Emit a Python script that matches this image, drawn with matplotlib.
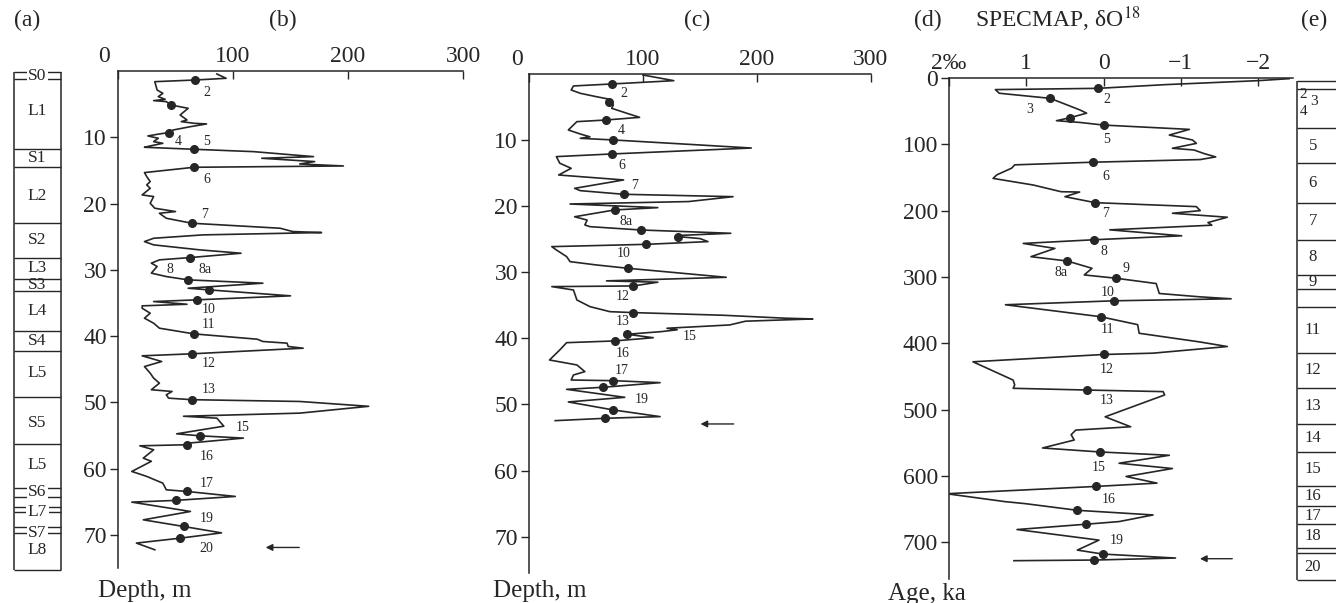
import matplotlib
matplotlib.use('Agg')
import matplotlib.pyplot as plt
from matplotlib.transforms import ScaledTranslation

plt.rcParams['font.family'] = ['Liberation Serif', 'DejaVu Serif']
plt.rcParams['mathtext.fontset'] = 'stix'

INK = '#262626'
W, H = 1336, 603

# (a) loess / palaeosol column, depth in m
a_bounds = [0.2, 1.2, 11.8, 14.5, 23.0, 28.2, 31.4, 33.2, 39.2, 42.3, 49.2, 56.3,
            62.9, 64.3, 65.8, 66.6, 68.8, 69.7, 75.3]
a_names = ['S0', 'L1', 'S1', 'L2', 'S2', 'L3', 'S3', 'L4', 'S4', 'L5', 'S5', 'L5',
           'S6', 'L7', 'S7', 'L8']
a_name_depth = [0.7, 6.1, 13.2, 18.9, 25.5, 29.8, 32.3, 36.2, 40.8, 45.6, 53.1, 59.4,
                63.6, 66.6, 69.7, 72.3]
a_boxed = ['S0', 'S6', 'L7', 'S7']

# (b) section 1
b_depth = [0.45, 1.1, 1.36, 1.61, 2.87, 3.37, 3.87, 4.27, 4.47, 4.62, 5.13, 5.63, 6.64,
           7.39, 7.64, 7.89, 7.99, 8.4, 8.9, 9.3, 9.5, 9.8, 10.15, 10.66, 10.91, 11.31,
           11.51, 11.81, 12.17, 12.92, 13.17, 13.67, 14.03, 14.33, 14.53, 15.33, 15.94,
           16.69, 17.19, 17.7, 18.7, 18.95, 19.96, 20.71, 21.21, 21.47, 22.22, 22.97,
           23.73, 24.23, 24.38, 24.73, 25.24, 25.74, 26.24, 26.99, 27.5, 28.15, 28.5,
           29.0, 29.5, 30.5, 31.02, 31.52, 32.02, 32.78, 33.03, 33.93, 34.53, 34.79,
           35.2, 35.44, 35.8, 36.55, 37.3, 38.06, 38.81, 39.67, 40.47, 40.82, 41.07,
           41.57, 41.83, 42.68, 42.98, 43.84, 44.6, 45.6, 46.35, 47.1, 48.1, 48.36,
           48.86, 49.37, 49.6, 49.87, 50.6, 51.63, 52.1, 52.39, 53.2, 53.6, 54.75,
           55.05, 55.4, 56.16, 56.4, 56.56, 57.16, 58.42, 58.9, 60.43, 61.18, 62.2,
           63.2, 63.45, 64.2, 64.8, 65.06, 66.47, 67.73, 68.73, 69.7, 70.5, 71.24, 72.25]
b_value = [86, 94, 67, 32, 34, 39, 35, 41, 31, 42, 46, 61, 54,
           60, 55, 66, 77, 63, 48, 44, 36, 26, 35, 31, 39, 28,
           23, 66, 118, 170, 125, 171, 158, 196, 66, 23, 25,
           28, 25, 28, 21, 31, 28, 32, 50, 36, 42, 64,
           141, 152, 177, 74, 31, 23, 31, 71, 107, 63, 36,
           29, 34, 29, 42, 61, 126, 61, 79, 150, 69, 31,
           60, 21, 21, 28, 23, 31, 36, 66, 121, 126, 147,
           148, 161, 64, 21, 38, 23, 28, 31, 36, 29, 47,
           42, 44, 64, 158, 218, 158, 57, 86, 90, 92, 51,
           71, 109, 61, 60, 19, 31, 22, 29, 12, 25, 39,
           42, 60, 102, 50, 12, 63, 22, 57, 90, 54, 16, 32]
b_mark_depth = [1.36, 5.13, 9.3, 11.81, 14.53, 22.97, 28.15, 31.52, 33.03, 34.53, 39.67,
                42.68, 49.6, 55.05, 56.4, 63.45, 64.8, 68.73, 70.5]
b_mark_value = [67, 46, 44, 66, 66, 64, 63, 61, 79, 69, 66,
                64, 64, 71, 60, 60, 50, 57, 54]
b_labels = ['2', '4', '5', '6', '7', '8', '8a', '10', '11', '12', '13', '15', '16',
            '17', '19', '20']
b_label_depth = [3.3, 10.6, 10.7, 16.3, 21.6, 30.0, 30.0, 36.0, 38.3, 44.1, 48.0, 53.8,
                 58.1, 62.2, 67.6, 72.0]
b_label_value = [77, 52, 77, 77, 75, 45, 76, 79, 79, 79, 79, 108, 77, 77, 77, 77]
b_arrow = (160, 126, 71.9)  # tail, tip, depth

# (c) section 2
c_depth = [0.15, 1.01, 1.51, 1.81, 2.42, 2.92, 3.43, 3.83, 4.18, 4.69, 5.19, 5.95,
           6.56, 6.96, 7.21, 8.47, 9.08, 9.5, 9.73, 9.98, 10.74, 11.2, 11.6, 12.1,
           12.5, 13.5, 14.27, 15.28, 15.53, 16.03, 17.3, 17.65, 18.2, 18.56, 19.3,
           19.67, 20.22, 20.57, 21.6, 22.1, 22.84, 23.1, 23.6, 24.1, 24.4, 24.6, 24.9,
           25.36, 25.77, 26.12, 26.62, 27.63, 28.39, 28.89, 29.4, 30.76, 31.3, 31.5,
           32.07, 32.17, 32.68, 34.19, 35.2, 35.96, 36.1, 36.5, 36.95, 37.06, 37.4,
           37.97, 38.47, 38.7, 38.98, 39.38, 39.9, 40.39, 40.65, 41.75, 43.27, 44.02,
           45.03, 45.54, 46.3, 46.4, 46.7, 47.4, 47.71, 48.92, 49.62, 50.83, 51.84,
           52.09, 52.45]
c_value = [100, 127, 72.5, 39, 37, 45, 59, 71, 70.5, 74, 72.5, 86,
           97, 67.5, 42, 34.5, 45, 53.5, 45, 74, 150, 195, 140, 72.5,
           24, 27, 37, 26, 45, 83, 40, 45, 83, 179, 140,
           36, 113, 75, 40, 51, 49, 53.5, 98, 177, 135, 131, 150,
           157, 103, 20, 24, 33, 36, 59, 87, 173, 68, 113,
           91.5, 20, 39, 42, 53.5, 71, 91.5, 170, 225, 249, 190,
           176, 121, 130, 116, 86, 109, 75, 33, 27, 18, 42,
           49, 39, 37, 74, 115, 65, 33, 84, 34.5, 74, 115,
           67, 23]
c_mark_depth = [1.51, 4.18, 6.96, 9.98, 12.1, 18.2, 20.57, 23.6, 24.6, 25.77, 29.4,
                32.07, 36.1, 39.38, 40.39, 46.4, 47.4, 50.83, 52.09]
c_mark_value = [72.5, 70.5, 67.5, 74, 72.5, 83, 75, 98, 131, 103, 87,
                91.5, 91.5, 86, 75, 74, 65, 74, 67]
c_labels = ['2', '4', '6', '7', '8a', '10', '12', '13', '15', '16', '17', '19']
c_label_depth = [2.9, 8.5, 13.9, 16.9, 22.3, 27.1, 33.6, 37.5, 39.7, 42.3, 44.9, 49.3]
c_label_value = [83, 81, 81, 93, 85, 83, 82, 82, 141, 82, 81, 99]
c_arrow = (182, 148, 52.95)

# (d) SPECMAP delta O-18, age in ka
d_age = [1, 4, 10, 15.6, 17.5, 23, 30.7, 48, 53, 59.8, 64.4, 67, 71, 77.5, 86, 93.5,
         98.6, 106, 108.6, 114, 119, 123, 127, 131, 136, 146, 151.4, 161.4, 171.5,
         172, 179, 188, 194, 200, 204, 210, 218, 222, 229, 238, 244, 249.5, 257,
         269.5, 276, 287, 297, 302, 310, 325, 330, 333, 336, 342, 360, 372, 385, 398,
         405, 415, 417, 428, 455.6, 463, 468, 470.6, 473, 478, 511, 526, 531, 538,
         546, 558, 564, 569, 581, 589, 601, 611, 616, 627, 639, 642, 652, 659, 669,
         673, 681, 697, 712, 718, 724, 727, 728]
d_value = [-2.4, -2.0, -0.8, 0.07, 1.4, 1.35, 0.69, 0.31, 0.22, 0.43, 0.61, 0.31, 0.0,
           -1.11, -0.85, -1.15, -1.2, -0.89, -1.17, -1.3, -1.45, -1.25, 0.14, 1.15,
           1.19, 1.38, 1.43, 0.91, 0.55, 0.31, 0.5, 0.11, -1.2, -1.25, -0.89, -1.6,
           -1.35, -1.4, -0.08, -1.01, 0.13, 1.04, 0.63, 0.94, 0.47, 0.15, 0.25, -0.16,
           -0.68, -0.72, -1.24, -1.65, -0.14, 1.27, 0.04, -0.44, -0.46, -1.24, -1.6,
           -0.64, 0.0, 1.69, 1.17, 1.15, 1.17, 0.22, -0.77, -0.79, -0.02, -0.35, 0.36,
           0.42, 0.38, 0.79, 0.05, -0.85, -0.2, -0.89, -0.29, -0.69, 0.10, 2.03, 1.27,
           1.01, 0.34, -0.64, -0.2, 0.23, 1.12, 0.06, 0.34, 0.01, -0.93, 0.12, 1.16]
d_mark_age = [15.6, 30.7, 59.8, 71, 127, 188, 244, 276, 302, 336, 360, 417, 470.6,
              564, 616, 652, 673, 718, 727]
d_mark_value = [0.07, 0.69, 0.43, 0.0, 0.14, 0.11, 0.13, 0.47, -0.16, -0.14, 0.04, 0.0,
                0.22, 0.05, 0.10, 0.34, 0.23, 0.01, 0.12]
d_labels = ['2', '3', '5', '6', '7', '8', '8a', '9', '10', '11', '12', '13', '15', '16',
            '19']
d_label_age = [32, 48, 93.5, 148, 204, 262, 294, 287, 324, 380, 439, 487, 587, 636, 697]
d_label_value = [-0.04, 0.95, -0.04, -0.03, -0.03, 0.0, 0.55, -0.29, -0.05, -0.05,
                 -0.04, -0.04, 0.06, -0.06, -0.17]
d_arrow = (-1.70, -1.21, 725)

# (e) marine isotope stages, age in ka
e_bounds = [4, 16, 76, 128, 188, 244, 297, 318, 345, 415, 467, 522, 564, 615, 646,
            673, 709, 716, 757]
e_names = ['5', '6', '7', '8', '9', '11', '12', '13', '14', '15', '16', '17', '18', '20']
e_name_age = [102, 158, 216, 270, 307, 380, 441, 494, 543, 590, 630, 660, 691, 737]


def box(px_left, px_top, px_right, px_bottom):
    return [px_left / W, 1 - px_bottom / H, (px_right - px_left) / W, (px_bottom - px_top) / H]


def curve_axes(rect, xlim, ylim, xticks, xticklabels, yticks, zero_shift=0):
    ax = fig.add_axes(rect)
    ax.set_xlim(*xlim)
    ax.set_ylim(*ylim)
    ax.patch.set_alpha(0)
    for side in ['right', 'bottom']:
        ax.spines[side].set_visible(False)
    for side in ['left', 'top']:
        ax.spines[side].set_color(INK)
        ax.spines[side].set_linewidth(1.1)
    ax.xaxis.tick_top()
    ax.set_xticks(xticks)
    ax.set_xticklabels(xticklabels)
    ax.set_yticks(yticks)
    ax.tick_params(axis='x', direction='in', length=6, pad=3, labelsize=17,
                   colors=INK, width=1)
    ax.tick_params(axis='y', direction='out', length=6, pad=2, labelsize=17,
                   colors=INK, width=1)
    if zero_shift:
        # the "0" at the corner is set a little to the left in the original
        lab = ax.get_xticklabels()[0]
        lab.set_transform(lab.get_transform()
                          + ScaledTranslation(zero_shift / 100, 0, fig.dpi_scale_trans))
    return ax


def draw_curve(ax, xs, ys, mx, my, labels, ly, lx, arrow):
    ax.plot(xs, ys, color=INK, lw=1.2)
    ax.plot(mx, my, 'o', color=INK, ms=5.5)
    for t, yy, xx in zip(labels, ly, lx):
        ax.text(xx, yy, t, fontsize=10, ha='center', va='center', color=INK)
    tail, tip, yy = arrow
    ax.annotate('', xy=(tip, yy), xytext=(tail, yy),
                arrowprops=dict(arrowstyle='-|>', color=INK, lw=1, mutation_scale=10))


def column(ax, bounds, names, positions, boxed, xpos, size):
    ax.axis('off')
    ax.set_xlim(0, 1)
    ax.vlines([0, 1], bounds[0], bounds[-1], color=INK, lw=1.1, clip_on=False)
    ax.hlines(bounds, 0, 1, color=INK, lw=1.0, clip_on=False)
    for name, pos in zip(names, positions):
        kw = {}
        if name in boxed:
            kw['bbox'] = dict(fc='white', ec='none', pad=1.0)
        ax.text(xpos, pos, name, ha='center', va='center', fontsize=size,
                color=INK, clip_on=False, **kw)


fig = plt.figure(figsize=(W / 100, H / 100), dpi=100)

# (a)
axa = fig.add_axes(box(14, 71, 61, 568))
axa.set_ylim(75, 0)
column(axa, a_bounds, a_names, a_name_depth, a_boxed, 0.5, 12.5)

# (b)
axb = curve_axes(box(118, 71, 463, 568), (0, 300), (75, 0),
                 [0, 100, 200, 300], ['0', '100', '200', '300'], range(10, 80, 10),
                 zero_shift=-14)
draw_curve(axb, b_value, b_depth, b_mark_value, b_mark_depth,
           b_labels, b_label_depth, b_label_value, b_arrow)

# (c)
axc = curve_axes(box(529, 74, 871, 573), (0, 300), (75.5, 0),
                 [0, 100, 200, 300], ['0', '100', '200', '300'], range(10, 80, 10),
                 zero_shift=-12)
draw_curve(axc, c_value, c_depth, c_mark_value, c_mark_depth,
           c_labels, c_label_depth, c_label_value, c_arrow)

# (d)
axd = curve_axes(box(949, 78, 1293, 578.6), (2, -2.45), (755, 0),
                 [2, 1, 0, -1, -2], ['2‰', '1', '0', '−1', '−2'], range(0, 800, 100))
draw_curve(axd, d_value, d_age, d_mark_value, d_mark_age,
           d_labels, d_label_age, d_label_value, d_arrow)

# (e)
axe = fig.add_axes(box(1297, 78, 1350, 578.6))
axe.set_ylim(755, 0)
column(axe, e_bounds, e_names, e_name_age, [], 0.3, 12)
axe.text(0.12, 25, '2', ha='center', va='center', fontsize=11, color=INK)
axe.text(0.12, 50, '4', ha='center', va='center', fontsize=11, color=INK)
axe.text(0.33, 36, '3', ha='center', va='center', fontsize=11, color=INK)

# panel letters and titles
for txt, x in [('(a)', 27), ('(b)', 283), ('(c)', 697), ('(d)', 928), ('(e)', 1314)]:
    fig.text(x / W, 1 - 20 / H, txt, ha='center', va='center', fontsize=17, color=INK)
fig.text(1058 / W, 1 - 19 / H, 'SPECMAP, δO$^{18}$', ha='center', va='center',
         fontsize=17, color=INK)
fig.text(98 / W, 1 - 591 / H, 'Depth, m', ha='left', va='center', fontsize=18, color=INK)
fig.text(493 / W, 1 - 591 / H, 'Depth, m', ha='left', va='center', fontsize=18, color=INK)
fig.text(888 / W, 1 - 594 / H, 'Age, ka', ha='left', va='center', fontsize=18, color=INK)

fig.savefig('out.png', dpi=100)
